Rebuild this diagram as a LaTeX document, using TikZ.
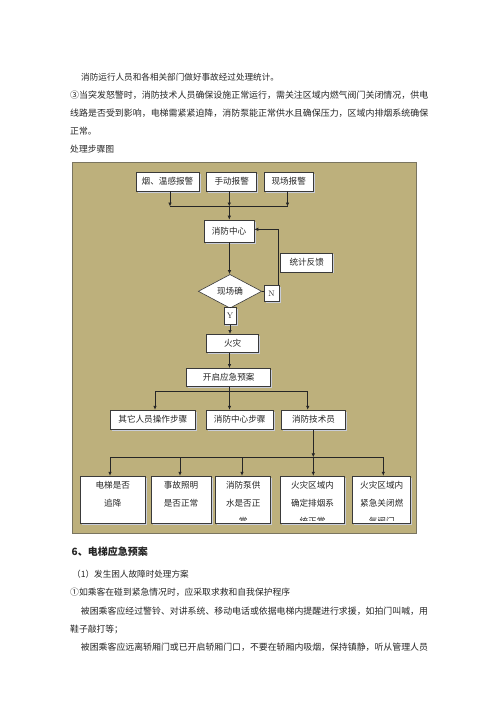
\documentclass[tikz,border=0pt]{standalone}
\usepackage{fontspec}
\newfontfamily\cjk{Noto Sans CJK SC}
\usetikzlibrary{arrows.meta,shapes.geometric,shadows,calc}
\definecolor{olive}{HTML}{BDB07C}
\definecolor{frame}{HTML}{7A7560}
\definecolor{boxline}{HTML}{3A3A3A}
\definecolor{shade}{HTML}{C9CDD8}
\definecolor{ink}{HTML}{262626}
\newcommand{\fs}[1]{\fontsize{#1}{#1}\selectfont}
\tikzset{
  x=1pt, y=-1pt,
  para/.style={anchor=west, inner sep=0, text=ink, font=\cjk\fs{8.8}},
  bx/.style={draw=boxline, fill=white, line width=0.6pt, inner sep=0, text=ink,
    font=\cjk\fs{8.6}, minimum height=19pt,
    drop shadow={shadow xshift=1.6pt, shadow yshift=-1.6pt, fill=shade, opacity=1}},
  tall/.style={bx, minimum height=47.3pt},
  lbl/.style={inner sep=0, text=ink, font=\cjk\fs{8.6}},
  conn/.style={draw=black!85, line width=0.7pt},
  arr/.style={conn, -{Latex[length=4pt,width=3.6pt]}}
}
\begin{document}
\begin{tikzpicture}
\useasboundingbox (0,0) rectangle (500,728);
\fill[white] (0,0) rectangle (500,728);

% ---- text above ----
\node[para, font=\cjk\fs{8.6}] (t1) at (81,77) {消防运行人员和各相关部门做好事故经过处理统计。};
\node[para, font=\cjk\fs{8.95}] (t2) at (70,95) {③当突发怒警时，消防技术人员确保设施正常运行，需关注区域内燃气阀门关闭情况，供电};
\node[para, font=\cjk\fs{8.95}] (t3) at (70,113) {线路是否受到影响，电梯需紧紧迫降，消防泵能正常供水且确保压力，区域内排烟系统确保};
\node[para] (t4) at (70,131) {正常。};
\node[para] (t5) at (70,149) {处理步骤图};

% ---- frame ----
\draw[frame, fill=olive, line width=0.8pt] (72,162) rectangle (416,533);

% ---- top alarms ----
\node[bx, minimum width=63pt] (a1) at (167.5,181.5) {烟、温感报警};
\node[bx, minimum width=50pt] (a2) at (231.7,181.5) {手动报警};
\node[bx, minimum width=49pt] (a3) at (288.7,181.5) {现场报警};
\coordinate (j1) at (170,206.5);
\coordinate (j2) at (229.3,206.5);
\coordinate (j3) at (287.5,206.5);
\draw[arr] (a1.south -| j1) -- (j1);
\draw[arr] (a2.south -| j2) -- (j2);
\draw[arr] (a3.south -| j3) -- (j3);
\draw[conn] (j1) -- (j3);

\node[bx, minimum width=50pt, minimum height=22pt] (c) at (229,231) {消防中心};
\draw[arr] (j2) -- (j2 |- c.north);

\node[bx, minimum width=52pt] (fb) at (306.7,262.3) {统计反馈};

\node[draw=boxline, fill=white, line width=0.6pt, diamond, inner sep=0,
  minimum width=63.4pt, minimum height=32.7pt, text=ink, font=\cjk\fs{8.6}] (d) at (230,291.3) {现场确};
\draw[arr] (c.south -| 229.5,0) -- (d.north -| 229.5,0);

\node[bx, minimum width=15.3pt, minimum height=16.7pt, font=\fs{8}, drop shadow={opacity=0}] (n) at (271.6,293.3) {N};
\draw[conn] (d.east) -- (n.west |- d.east);
\coordinate (fk) at (278.5,229.3);
\draw[conn] (n.north -| fk) -- (fk);
\draw[arr] (fk) -- (fk -| c.east);

\node[bx, minimum width=12.3pt, minimum height=16.6pt, font=\fs{8}, drop shadow={opacity=0}] (y) at (230,316) {Y};
\draw[conn] (d.south) -- (y.north);

\node[bx, minimum width=52pt, minimum height=18.4pt] (f) at (232.7,343.5) {火灾};
\draw[arr] (y.south) -- (y.south |- f.north);

\node[bx, minimum width=84pt, minimum height=18.4pt] (p) at (228.7,377.5) {开启应急预案};
\draw[arr] (f.south -| 229.5,0) -- (p.north -| 229.5,0);

% ---- three branches ----
\node[bx, minimum width=84.3pt, minimum height=19.3pt] (s1) at (152.8,419.7) {其它人员操作步骤};
\node[bx, minimum width=67.3pt, minimum height=19.3pt] (s2) at (239.7,419.7) {消防中心步骤};
\node[bx, minimum width=64.3pt, minimum height=19.3pt] (s3) at (313.5,419.7) {消防技术员};
\coordinate (h1) at (155,391.7);
\coordinate (h2) at (229.5,391.7);
\coordinate (h3) at (307.7,391.7);
\draw[conn] (p.south -| h2) -- (h2);
\draw[conn] (h1) -- (h3);
\draw[arr] (h1) -- (h1 |- s1.north);
\draw[arr] (h2) -- (h2 |- s2.north);
\draw[arr] (h3) -- (h3 |- s3.north);

% ---- five checks ----
\node[tall, minimum width=64.3pt] (b1) at (112.8,499.7) {};
\node[tall, minimum width=60pt] (b2) at (181,499.7) {};
\node[tall, minimum width=55pt] (b3) at (243.2,499.7) {};
\node[tall, minimum width=63.6pt] (b4) at (312.5,499.7) {};
\node[tall, minimum width=58pt] (b5) at (381.7,499.7) {};

\coordinate (k1) at (110,457.3);
\coordinate (k2) at (180,457.3);
\coordinate (k3) at (242,457.3);
\coordinate (k4) at (313.3,457.3);
\coordinate (k5) at (383.3,457.3);
\draw[arr] (s3.south -| k4) -- (k4);
\draw[conn] (k1) -- (k5);
\draw[arr] (k1) -- (k1 |- b1.north);
\draw[arr] (k2) -- (k2 |- b2.north);
\draw[arr] (k3) -- (k3 |- b3.north);
\draw[arr] (k4) -- (k4 |- b4.north);
\draw[arr] (k5) -- (k5 |- b5.north);

% box texts (clipped to the inner text area of the boxes)
\node[lbl] (b1l1) at (112.8,485) {电梯是否};
\node[lbl] (b1l2) at (112.8,503.3) {追降};
\node[lbl] (b2l1) at (181,485) {事故照明};
\node[lbl] (b2l2) at (181,503.3) {是否正常};
\begin{scope}
\clip (b3.north west) rectangle (b3.east |- 0,520);
\node[lbl] (b3l1) at (243.2,485) {消防泵供};
\node[lbl] (b3l2) at (243.2,503.3) {水是否正};
\node[lbl] (b3l3) at (243.2,521) {常};
\end{scope}
\begin{scope}
\clip (b4.north west) rectangle (b4.east |- 0,520);
\node[lbl] (b4l1) at (312.5,485) {火灾区域内};
\node[lbl] (b4l2) at (312.5,503.3) {确定排烟系};
\node[lbl] (b4l3) at (312.5,521) {统正常};
\end{scope}
\begin{scope}
\clip (b5.north west) rectangle (b5.east |- 0,520);
\node[lbl] (b5l1) at (381.7,485) {火灾区域内};
\node[lbl] (b5l2) at (381.7,503.3) {紧急关闭燃};
\node[lbl] (b5l3) at (381.7,521) {气阀门};
\end{scope}

% ---- text below ----
\node[para, font=\cjk\bfseries\fs{10}] (h6) at (71.5,551.7) {6、电梯应急预案};
\node[para, font=\cjk\fs{8.6}] (u1) at (72,574) {（1）发生困人故障时处理方案};
\node[para] (u2) at (70,592.3) {①如乘客在碰到紧急情况时，应采取求救和自我保护程序};
\node[para, font=\cjk\fs{8.9}] (u3) at (80.7,611) {被困乘客应经过警铃、对讲系统、移动电话或依据电梯内提醒进行求援，如拍门叫喊，用};
\node[para] (u4) at (70,629) {鞋子敲打等；};
\node[para, font=\cjk\fs{8.9}] (u5) at (80.7,646.7) {被困乘客应远离轿厢门或已开启轿厢门口，不要在轿厢内吸烟，保持镇静，听从管理人员};
\end{tikzpicture}
\end{document}
